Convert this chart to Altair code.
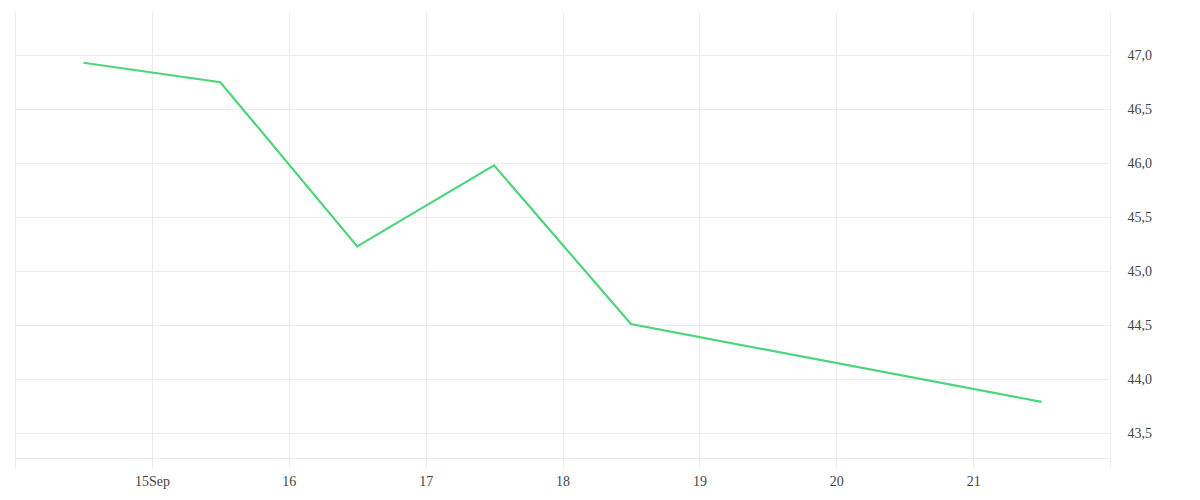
import altair as alt
import pandas as pd

times = [
    "2023-09-14T12:00:00",
    "2023-09-15T12:00:00",
    "2023-09-16T12:00:00",
    "2023-09-17T12:00:00",
    "2023-09-18T12:00:00",
    "2023-09-21T12:00:00",
]
values = [46.93, 46.75, 45.23, 45.98, 44.51, 43.79]

df = pd.DataFrame({"time": times, "value": values})

grid_color = "#ececec"

x_axis = alt.Axis(
    title=None,
    tickCount={"interval": "day", "step": 1},
    grid=True,
    gridColor=grid_color,
    ticks=True,
    tickColor=grid_color,
    tickSize=10,
    domain=True,
    domainColor=grid_color,
    labelFont="Liberation Serif",
    labelFontSize=14,
    labelColor="#444444",
    labelPadding=6,
    labelExpr="date(datum.value) == 15 ? '15Sep' : ((date(datum.value) == 14 || date(datum.value) == 22) ? '' : timeFormat(datum.value, '%d'))",
)

y_axis = alt.Axis(
    title=None,
    orient="right",
    values=[43.5, 44.0, 44.5, 45.0, 45.5, 46.0, 46.5, 47.0],
    grid=True,
    gridColor=grid_color,
    ticks=False,
    domain=False,
    labelFont="Liberation Serif",
    labelFontSize=14,
    labelColor="#444444",
    labelPadding=17,
    labelExpr="replace(format(datum.value, '.1f'), '.', ',')",
)

chart = (
    alt.Chart(df)
    .mark_line(color="#4cd57b", strokeWidth=2.2)
    .encode(
        x=alt.X(
            "time:T",
            axis=x_axis,
            scale=alt.Scale(
                domain=[
                    alt.DateTime(year=2023, month=9, date=14),
                    alt.DateTime(year=2023, month=9, date=22),
                ],
                nice=False,
            ),
        ),
        y=alt.Y(
            "value:Q",
            axis=y_axis,
            scale=alt.Scale(domain=[43.27, 47.4], nice=False, zero=False),
        ),
    )
    .properties(
        width=1095,
        height=446,
        padding={"left": 6, "top": 4, "right": 5, "bottom": 5},
    )
    .configure_view(stroke=None)
)

chart.save("out.html", embed_options={"renderer": "svg", "actions": False})
